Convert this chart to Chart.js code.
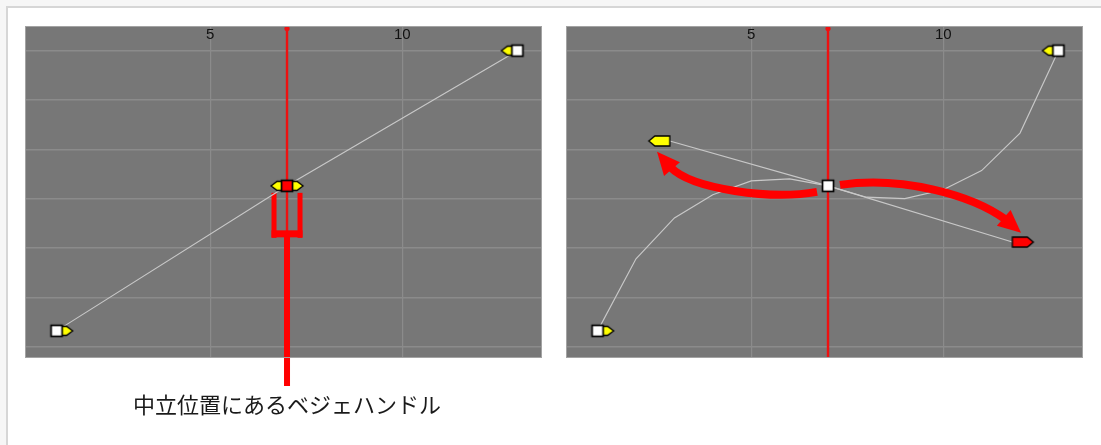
<!DOCTYPE html>
<html><head><meta charset="utf-8">
<script src="https://cdn.jsdelivr.net/npm/chart.js@4.4.1/dist/chart.umd.min.js"></script>
<style>
html,body{margin:0;padding:0;background:#f6f6f6;width:1101px;height:445px;overflow:hidden;}
#frame{position:absolute;left:6px;top:6px;width:1095px;height:439px;background:#fff;border-top:2px solid #d6d6d6;border-left:2px solid #d6d6d6;box-sizing:border-box;}
canvas{position:absolute;}
#c1{left:25px;top:26px;}
#c2{left:566px;top:26px;}
#caption{position:absolute;left:87px;width:400px;text-align:center;top:392px;font-family:"Noto Sans CJK JP";font-size:22px;line-height:22px;color:#1a1a1a;white-space:nowrap;}
</style></head>
<body>
<div id="frame"></div>
<canvas id="c1" width="517" height="362"></canvas>
<canvas id="c2" width="517" height="332"></canvas>
<div id="caption"></div>
<script>
// ---- data ----
const xTicks = [5, 10];
const yGridValues = [0, 1, 2, 3, 4, 5, 6];
const frames = [1, 2, 3, 4, 5, 6, 7, 8, 9, 10, 11, 12, 13];
const keyFrames = [1, 7, 13];
const keyValues = [0.32, 3.26, 6.0];
const easedValues = [0.32, 1.78, 2.61, 3.08, 3.36, 3.40, 3.26, 3.03, 3.00, 3.18, 3.57, 4.33, 6.0];
const handleFrames = [2.88, 11.8];
const handleValues = [4.17, 2.12];
const currentFrame = 7;
const captionText = '中立位置にあるベジェハンドル';

document.getElementById('caption').textContent = captionText;

// ---- marker images ----
const MW = 60, MH = 22, CX = 30, CY = 11;
function mk(draw){const c=document.createElement('canvas');c.width=MW;c.height=MH;const g=c.getContext('2d');draw(g);return c;}
function keyBox(g, fill){
  g.fillStyle = fill; g.fillRect(CX-5.5, CY-5.5, 11, 11);
  g.strokeStyle = '#000'; g.lineWidth = 1.7; g.strokeRect(CX-5.5, CY-5.5, 11, 11);
}
function handle(g, x0, d, b, t, hh, fill){
  g.beginPath();
  g.moveTo(x0, CY-hh); g.lineTo(x0+d*b, CY-hh); g.lineTo(x0+d*(b+t), CY);
  g.lineTo(x0+d*b, CY+hh); g.lineTo(x0, CY+hh); g.closePath();
  g.fillStyle = fill; g.fill(); g.strokeStyle = '#000'; g.lineWidth = 1.3; g.stroke();
}
const YEL = '#ffff00', RED = '#ff0000';
const keyRightHandle = mk(g=>{handle(g, CX+5, 1, 5, 6, 4.5, YEL); keyBox(g,'#fff');});
const keyLeftHandle  = mk(g=>{handle(g, CX-5, -1, 5, 6, 4.5, YEL); keyBox(g,'#fff');});
const keyBothRed     = mk(g=>{handle(g, CX+5, 1, 5, 6, 4.5, YEL); handle(g, CX-5, -1, 5, 6, 4.5, YEL); keyBox(g, RED);});
const keyPlain       = mk(g=>{keyBox(g,'#fff');});
const bigLeftYellow  = mk(g=>{handle(g, CX, -1, 15, 6, 5, YEL);});
const bigRightRed    = mk(g=>{handle(g, CX, 1, 15, 6, 5, RED);});

// ---- shared options ----
function scaleOpts(){
  const grid = {color:'#8b8b8b', lineWidth:1.4, drawTicks:false};
  return {
    x:{type:'linear', min:0.177, max:13.64,
       afterBuildTicks:s=>{s.ticks = xTicks.map(v=>({value:v}));},
       ticks:{display:false}, grid:Object.assign({}, grid, {lineWidth:1.2}), border:{display:false}},
    y:{type:'linear', min:-0.23, max:6.5,
       afterBuildTicks:s=>{s.ticks = yGridValues.map(v=>({value:v}));},
       ticks:{display:false}, grid:grid, border:{display:false}}
  };
}
const panelPlugin = {
  id:'panel',
  beforeDraw(chart){
    const a = chart.chartArea, c = chart.ctx;
    c.save(); c.fillStyle = '#777777'; c.fillRect(a.left, a.top, a.right-a.left, a.bottom-a.top); c.restore();
  },
  afterDraw(chart){
    const a = chart.chartArea, c = chart.ctx, xs = chart.scales.x;
    c.save();
    c.strokeStyle = '#a3a3a3'; c.lineWidth = 1;
    c.strokeRect(a.left+0.5, a.top+0.5, a.right-a.left-1, a.bottom-a.top-1);
    c.fillStyle = '#111111'; c.font = '15px "Liberation Sans"';
    c.textAlign = 'center'; c.textBaseline = 'middle';
    xTicks.forEach(v=>c.fillText(String(v), xs.getPixelForValue(v), a.top+8.5));
    c.restore();
  }
};
function redCursor(chart){
  const a = chart.chartArea, c = chart.ctx, x = chart.scales.x.getPixelForValue(currentFrame);
  c.fillStyle = '#ee1111';
  c.fillRect(x-1.2, a.top, 2.4, a.bottom-a.top);
  c.beginPath(); c.arc(x, a.top+2.5, 2.6, 0, Math.PI*2); c.fill();
  return x;
}
function lineDs(data, color){
  return {data, showLine:true, borderColor:color, borderWidth:1.15, pointRadius:0, fill:false};
}
function markerDs(data, styles){
  return {data, showLine:false, pointRadius:6, pointStyle:styles, pointBackgroundColor:'#fff', pointBorderWidth:0};
}
const common = {
  responsive:false, animation:false, devicePixelRatio:1, events:[],
  plugins:{legend:{display:false}, tooltip:{enabled:false}}
};

// ---- left panel: neutral handles ----
const forkPlugin = {
  id:'fork',
  beforeDatasetsDraw(chart){
    const c = chart.ctx; c.save();
    const kx = redCursor(chart);
    const ky = chart.scales.y.getPixelForValue(keyValues[1]);
    c.fillStyle = '#ff0000';
    c.fillRect(kx-15.5, ky+7, 5, 45);
    c.fillRect(kx+10.5, ky+7, 5, 45);
    c.fillRect(kx-15.5, ky+44.5, 31, 7);
    c.fillRect(kx-3, ky+51, 6, chart.height-2-(ky+51));
    c.restore();
  }
};
new Chart(document.getElementById('c1'), {
  type:'scatter',
  data:{datasets:[
    markerDs(keyFrames.map((f,i)=>({x:f,y:keyValues[i]})), [keyRightHandle, keyBothRed, keyLeftHandle]),
    lineDs(keyFrames.map((f,i)=>({x:f,y:keyValues[i]})), '#c8c8c8')
  ]},
  options:Object.assign({}, common, {layout:{autoPadding:false, padding:{left:0,right:0,top:0,bottom:30}}, scales:scaleOpts()}),
  plugins:[panelPlugin, forkPlugin]
});

// ---- right panel: moved handles ----
function arrow(c, ox, oy, pts){
  const [S,C1,C2,E,T] = pts.map(p=>[ox+p[0], oy+p[1]]);
  c.strokeStyle = '#ff0000'; c.fillStyle = '#ff0000'; c.lineWidth = 8; c.lineCap = 'butt';
  c.beginPath(); c.moveTo(S[0],S[1]); c.bezierCurveTo(C1[0],C1[1],C2[0],C2[1],E[0],E[1]); c.stroke();
  const dx = T[0]-E[0], dy = T[1]-E[1], L = Math.hypot(dx,dy), nx = -dy/L, ny = dx/L, hw = 10.5;
  const bx = E[0]-dx/L*3, by = E[1]-dy/L*3;
  c.beginPath(); c.moveTo(T[0],T[1]); c.lineTo(bx+nx*hw, by+ny*hw); c.lineTo(bx-nx*hw, by-ny*hw); c.closePath(); c.fill();
}
const arrowPlugin = {
  id:'arrows',
  beforeDatasetsDraw(chart){ const c = chart.ctx; c.save(); redCursor(chart); c.restore(); },
  afterDatasetsDraw(chart){
    const c = chart.ctx; c.save();
    const kx = chart.scales.x.getPixelForValue(keyFrames[1]);
    const ky = chart.scales.y.getPixelForValue(keyValues[1]);
    arrow(c, kx, ky, [[-11,6],[-56,14],[-136,4],[-158,-19],[-171,-34]]);
    arrow(c, kx, ky, [[12,-1],[74,-10],[144,9],[178,34],[193,47]]);
    c.restore();
  }
};
const handleLine = [
  {x:handleFrames[0], y:handleValues[0]},
  {x:keyFrames[1], y:keyValues[1]},
  {x:handleFrames[1], y:handleValues[1]}
];
new Chart(document.getElementById('c2'), {
  type:'scatter',
  data:{datasets:[
    markerDs(keyFrames.map((f,i)=>({x:f,y:keyValues[i]})), [keyRightHandle, keyPlain, keyLeftHandle]),
    markerDs(handleFrames.map((f,i)=>({x:f,y:handleValues[i]})), [bigLeftYellow, bigRightRed]),
    lineDs(handleLine, '#c8c8c8'),
    lineDs(frames.map((f,i)=>({x:f,y:easedValues[i]})), '#c8c8c8')
  ]},
  options:Object.assign({}, common, {layout:{autoPadding:false, padding:0}, scales:scaleOpts()}),
  plugins:[panelPlugin, arrowPlugin]
});
</script>
</body></html>
